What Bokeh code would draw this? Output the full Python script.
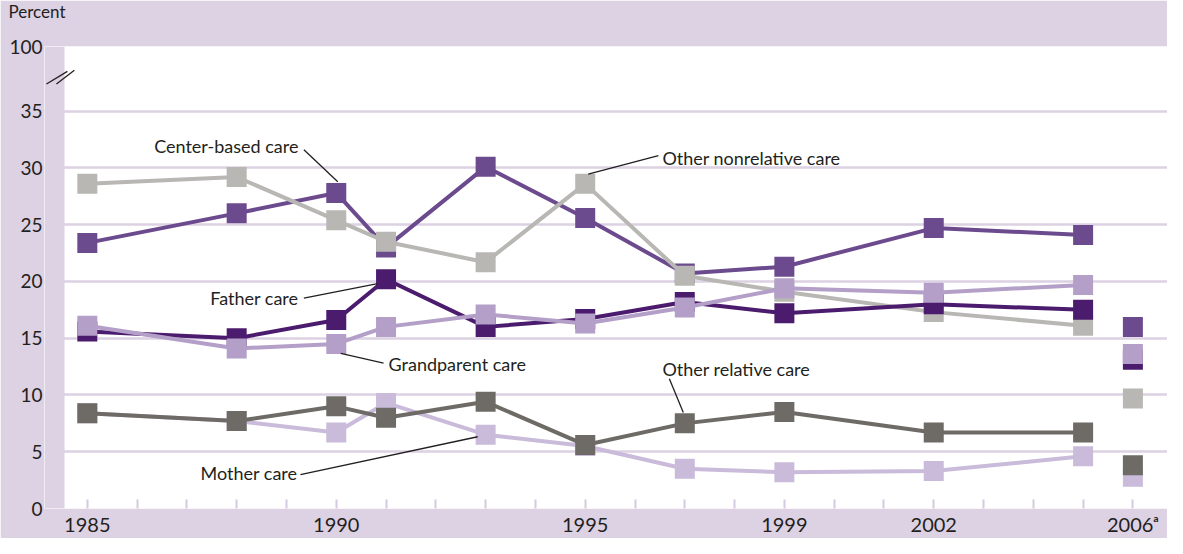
from bokeh.plotting import figure
from bokeh.models import Range1d, FixedTicker, Label, Arrow
from bokeh.embed import file_html
from bokeh.resources import INLINE

# ---- data ----
years = [1985, 1988, 1990, 1991, 1993, 1995, 1997, 1999, 2002, 2005]
year_2006 = [2006]

center_based = [23.4, 26.0, 27.8, 23.0, 30.1, 25.6, 20.7, 21.3, 24.7, 24.1]
center_based_2006 = [16.0]
other_nonrelative = [28.6, 29.2, 25.4, 23.5, 21.7, 28.6, 20.5, 19.1, 17.3, 16.1]
other_nonrelative_2006 = [9.7]
father = [15.6, 15.0, 16.6, 20.2, 16.0, 16.7, 18.2, 17.2, 18.0, 17.5]
father_2006 = [13.1]
grandparent = [16.1, 14.1, 14.5, 16.0, 17.1, 16.3, 17.7, 19.4, 19.0, 19.7]
grandparent_2006 = [13.6]
other_relative = [8.4, 7.7, 9.0, 8.0, 9.4, 5.6, 7.5, 8.5, 6.7, 6.7]
other_relative_2006 = [3.8]
mother = [8.4, 7.7, 6.7, 9.3, 6.5, 5.5, 3.5, 3.2, 3.3, 4.6]
mother_2006 = [2.8]

x_tick_years = list(range(1985, 2007))
x_label_years = [1985, 1990, 1995, 1999, 2002, 2006]
x_labels = ["1985", "1990", "1995", "1999", "2002", "2006\u1d43"]
y_ticks = [0, 5, 10, 15, 20, 25, 30, 35, 40.7]
y_labels = ["0", "5", "10", "15", "20", "25", "30", "35", "100"]
grid_ticks = [5, 10, 15, 20, 25, 30, 35]

# ---- style ----
BG = "#ddd1e4"
GRID = "#ddd1e4"
TXT = "#231f20"
FONT = "Lato"
C_CENTER = "#6c4a8e"
C_FATHER = "#4b1b6d"
C_GRAND = "#b39fc8"
C_NONREL = "#b8b7b3"
C_OTHREL = "#6e6b67"
C_MOTHER = "#c9bbd9"

X0, XW = 1984.140, 1984.542   # left band (drawn inside the frame) and white area start
YTOP = 40.7

p = figure(width=1167, height=538, output_backend="svg", toolbar_location=None,
           title="Percent\n ",
           x_range=Range1d(X0, 2006.695), y_range=Range1d(0, YTOP),
           min_border_left=44, min_border_right=0, min_border_top=42, min_border_bottom=22,
           background_fill_color="white", border_fill_color=BG, outline_line_color=None)

p.title.align = "left"
p.title.offset = -36
p.title.vertical_align = "top"
p.title.standoff = 1
p.title.text_line_height = 1.05
p.title.text_font = FONT
p.title.text_font_style = "normal"
p.title.text_font_size = "17px"
p.title.text_color = TXT

# axes
p.xaxis.ticker = FixedTicker(ticks=x_tick_years)
overrides = {y: "" for y in x_tick_years}
for y, lab_ in zip(x_label_years, x_labels):
    overrides[y] = lab_
p.xaxis.major_label_overrides = overrides
p.xaxis.axis_line_color = None
p.xaxis.major_tick_in = 9
p.xaxis.major_tick_out = 0
p.xaxis.major_tick_line_color = "#d6c9e0"
p.xaxis.major_tick_line_width = 2
p.xaxis.minor_tick_line_color = None
p.xaxis.major_label_standoff = 3
p.xaxis.major_label_text_font = FONT
p.xaxis.major_label_text_font_size = "20px"
p.xaxis.major_label_text_color = TXT

p.yaxis.ticker = FixedTicker(ticks=y_ticks)
p.yaxis.major_label_overrides = {t: l for t, l in zip(y_ticks, y_labels)}
p.yaxis.axis_line_color = None
p.yaxis.major_tick_line_color = None
p.yaxis.major_tick_in = 0
p.yaxis.major_tick_out = 0
p.yaxis.minor_tick_line_color = None
p.yaxis.major_label_standoff = 2
p.yaxis.major_label_text_font = FONT
p.yaxis.major_label_text_font_size = "19px"
p.yaxis.major_label_text_color = TXT

p.xgrid.grid_line_color = None
p.ygrid.ticker = FixedTicker(ticks=grid_ticks)
p.ygrid.grid_line_color = GRID
p.ygrid.grid_line_width = 2.5

# left purple band continuing the border inside the frame
p.quad(left=[X0], right=[XW], bottom=[0], top=[YTOP], fill_color=BG, line_color=None)

# axis break mark
p.segment(x0=[1984.18, 1984.38], y0=[37.40, 37.40], x1=[1984.60, 1984.74], y1=[38.51, 38.60],
          line_color=TXT, line_width=1.3)

# series (bottom to top)
series = [
    (mother, mother_2006, C_MOTHER),
    (other_relative, other_relative_2006, C_OTHREL),
    (center_based, center_based_2006, C_CENTER),
    (other_nonrelative, other_nonrelative_2006, C_NONREL),
    (father, father_2006, C_FATHER),
    (grandparent, grandparent_2006, C_GRAND),
]
for vals, v06, col in series:
    p.line(years, vals, line_color=col, line_width=4)
    p.scatter(years, vals, marker="square", size=20, fill_color=col, line_color=None)
    p.scatter(year_2006, v06, marker="square", size=20, fill_color=col, line_color=None)

# annotations
def lab(text, x, y, align):
    p.add_layout(Label(x=x, y=y, text=text, text_align=align, text_baseline="middle",
                       text_font=FONT, text_font_size="18px", text_color=TXT))

def leader(x0, y0, x1, y1):
    p.add_layout(Arrow(end=None, x_start=x0, y_start=y0, x_end=x1, y_end=y1,
                       line_color=TXT, line_width=1.3))

lab("Center-based care", 1989.24, 31.94, "right")
leader(1989.35, 31.60, 1990.03, 28.78)
lab("Other nonrelative care", 1996.55, 30.91, "left")
leader(1996.47, 31.08, 1995.06, 29.46)
lab("Father care", 1989.24, 18.53, "right")
leader(1989.35, 18.53, 1990.83, 19.81)
lab("Grandparent care", 1991.05, 12.72, "left")
leader(1990.09, 13.66, 1990.95, 12.81)
lab("Other relative care", 1996.55, 12.30, "left")
leader(1996.69, 11.44, 1996.97, 8.45)
lab("Mother care", 1989.22, 3.16, "right")
leader(1989.28, 2.99, 1992.84, 6.32)

open("out.html", "w").write(file_html(p, INLINE))
